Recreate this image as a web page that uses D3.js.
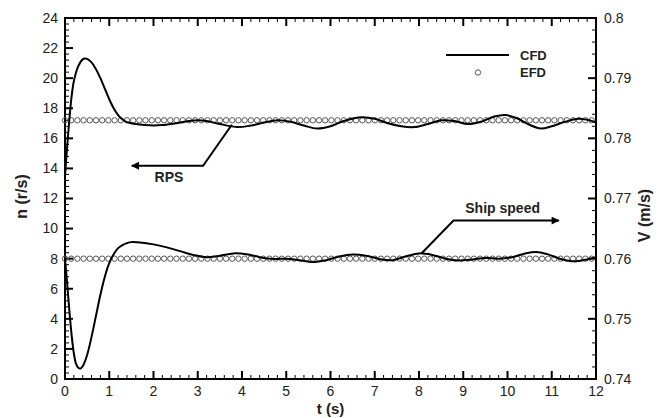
<!DOCTYPE html>
<html><head><meta charset="utf-8">
<script src="https://cdn.jsdelivr.net/npm/d3@7"></script>
<style>body{margin:0;background:#fff}svg{display:block}</style>
</head><body>
<script>
// ---- data ----
const rpsTime = [0,0.05,0.1,0.15,0.2,0.3,0.4,0.45,0.5,0.6,0.7,0.8,0.9,1.0,1.1,1.2,1.3,1.4,1.6,1.8,2.0,2.2,2.5,2.8,3.0,3.2,3.5,3.9,4.2,4.5,4.8,5.1,5.4,5.7,6.0,6.3,6.7,7.0,7.3,7.6,7.9,8.2,8.5,8.8,9.1,9.4,9.7,9.95,10.2,10.5,10.75,11.0,11.3,11.6,11.85,12];
const rpsCFD = [13.5,15.5,17.3,18.8,19.8,20.8,21.25,21.3,21.28,21.05,20.6,20.0,19.3,18.6,18.0,17.55,17.25,17.08,16.95,16.88,16.85,16.88,17.0,17.15,17.2,17.15,16.95,16.75,16.85,17.05,17.2,17.1,16.85,16.65,16.8,17.15,17.4,17.3,17.0,16.8,16.75,16.95,17.2,17.15,16.95,17.1,17.45,17.55,17.35,16.9,16.65,16.8,17.1,17.3,17.2,17.05];
const speedTime = [0,0.05,0.1,0.15,0.2,0.25,0.3,0.35,0.4,0.5,0.6,0.7,0.8,0.9,1.0,1.1,1.2,1.3,1.4,1.5,1.7,2.0,2.3,2.6,2.9,3.2,3.5,3.8,4.1,4.4,4.7,5.0,5.3,5.6,5.9,6.2,6.5,6.8,7.1,7.4,7.7,8.0,8.3,8.6,8.9,9.2,9.5,9.8,10.1,10.4,10.65,10.9,11.2,11.5,11.8,12];
const speedCFD = [8.0,6.3,4.5,2.9,1.7,1.0,0.75,0.7,0.85,1.6,2.8,4.2,5.6,6.8,7.7,8.3,8.7,8.9,9.03,9.1,9.08,8.95,8.75,8.5,8.25,8.1,8.2,8.35,8.3,8.1,7.98,8.0,7.9,7.78,7.9,8.15,8.28,8.2,7.98,7.9,8.15,8.35,8.25,8.0,7.88,7.95,8.05,8.0,8.1,8.35,8.45,8.3,7.98,7.82,7.95,8.1];
const rpsEFD = 17.2;      // constant experimental RPS
const speedEFD = 8.0;     // experimental ship speed, on the n scale (0.76 m/s)
const efdTime = d3.range(0, 12.001, 0.14);
const xTicks = [0,1,2,3,4,5,6,7,8,9,10,11,12];
const nTicks = [0,2,4,6,8,10,12,14,16,18,20,22,24];
const vTicks = [0.74,0.75,0.76,0.77,0.78,0.79,0.8];
const vTickLabels = ["0.74","0.75","0.76","0.77","0.78","0.79","0.8"];

// ---- layout ----
const W = 668, H = 418;
const m = {l:65, r:72, t:18, b:39};
const svg = d3.select("body").append("svg").attr("width", W).attr("height", H)
  .style("font-family", "'Liberation Sans', Arial, sans-serif");

const x = d3.scaleLinear().domain([0,12]).range([m.l, W - m.r]);
const y = d3.scaleLinear().domain([0,24]).range([H - m.b, m.t]);
const yv = d3.scaleLinear().domain([0.74,0.8]).range([H - m.b, m.t]);

const x0 = x(0), x1 = x(12), y0 = y(0), y1 = y(24);
const MAJ = 8, MIN = 4;
const g = svg.append("g");

// minor ticks
const xMinor = d3.range(0, 12.001, 0.2).filter(v => Math.abs(v - Math.round(v)) > 1e-6);
const nMinor = d3.range(0, 24.001, 0.4).filter(v => Math.abs(v/2 - Math.round(v/2)) > 1e-6);
const vMinor = d3.range(0.74, 0.8001, 0.002).filter(v => Math.abs(v*100 - Math.round(v*100)) > 1e-6);

const tk = g.append("g").attr("stroke", "#000");
xMinor.forEach(v => {
  tk.append("line").attr("x1", x(v)).attr("x2", x(v)).attr("y1", y0).attr("y2", y0 - MIN).attr("stroke-width", 1);
  tk.append("line").attr("x1", x(v)).attr("x2", x(v)).attr("y1", y1).attr("y2", y1 + MIN).attr("stroke-width", 1);
});
xTicks.forEach(v => {
  tk.append("line").attr("x1", x(v)).attr("x2", x(v)).attr("y1", y0).attr("y2", y0 - MAJ).attr("stroke-width", 2);
  tk.append("line").attr("x1", x(v)).attr("x2", x(v)).attr("y1", y1).attr("y2", y1 + MAJ).attr("stroke-width", 2);
});
nMinor.forEach(v => {
  tk.append("line").attr("x1", x0).attr("x2", x0 + MIN).attr("y1", y(v)).attr("y2", y(v)).attr("stroke-width", 1);
});
nTicks.forEach(v => {
  tk.append("line").attr("x1", x0).attr("x2", x0 + MAJ).attr("y1", y(v)).attr("y2", y(v)).attr("stroke-width", 2);
});
vMinor.forEach(v => {
  tk.append("line").attr("x1", x1).attr("x2", x1 - MIN).attr("y1", yv(v)).attr("y2", yv(v)).attr("stroke-width", 1);
});
vTicks.forEach(v => {
  tk.append("line").attr("x1", x1).attr("x2", x1 - MAJ).attr("y1", yv(v)).attr("y2", yv(v)).attr("stroke-width", 2);
});

// frame
g.append("rect").attr("x", x0).attr("y", y1).attr("width", x1 - x0).attr("height", y0 - y1)
  .attr("fill", "none").attr("stroke", "#000").attr("stroke-width", 2);

// tick labels
const lab = g.append("g").attr("font-size", 14).attr("fill", "#222");
xTicks.forEach(v => lab.append("text").attr("x", x(v)).attr("y", y0 + 17).attr("text-anchor", "middle").text(v));
nTicks.forEach(v => lab.append("text").attr("x", x0 - 7).attr("y", y(v)).attr("dy", "0.35em").attr("text-anchor", "end").text(v));
vTicks.forEach((v, i) => lab.append("text").attr("x", x1 + 8).attr("y", yv(v)).attr("dy", "0.35em").attr("text-anchor", "start").text(vTickLabels[i]));

// axis titles
svg.append("text").attr("x", x(6)).attr("y", 414).attr("text-anchor", "middle")
  .attr("font-size", 15).attr("font-weight", "bold").attr("fill", "#222").text("t (s)");
svg.append("text").attr("transform", `translate(27,${y(12) - 2}) rotate(-90)`).attr("text-anchor", "middle")
  .attr("font-size", 16).attr("font-weight", "bold").attr("fill", "#222").text("n (r/s)");
svg.append("text").attr("transform", `translate(650,${y(12) + 17}) rotate(-90)`).attr("text-anchor", "middle")
  .attr("font-size", 16).attr("font-weight", "bold").attr("fill", "#222").text("V (m/s)");

// EFD circles
const circ = svg.append("g").attr("fill", "none").attr("stroke", "#555").attr("stroke-width", 1);
[rpsEFD, speedEFD].forEach(val => {
  efdTime.forEach(t => circ.append("circle").attr("cx", x(t)).attr("cy", y(val)).attr("r", 2.7));
});

// CFD lines
const line = d3.line().x(d => x(d[0])).y(d => y(d[1])).curve(d3.curveCatmullRom.alpha(0.5));
svg.append("path").datum(rpsTime.map((t, i) => [t, rpsCFD[i]]))
  .attr("d", line).attr("fill", "none").attr("stroke", "#000").attr("stroke-width", 2);
svg.append("path").datum(speedTime.map((t, i) => [t, speedCFD[i]]))
  .attr("d", line).attr("fill", "none").attr("stroke", "#000").attr("stroke-width", 2);

// annotations
svg.append("defs").append("marker").attr("id", "arr").attr("viewBox", "0 0 10 10")
  .attr("refX", 9).attr("refY", 5).attr("markerWidth", 5).attr("markerHeight", 4)
  .attr("orient", "auto").attr("markerUnits", "strokeWidth")
  .append("path").attr("d", "M0,0 L10,5 L0,10 z").attr("fill", "#000");

const ann = (pts) => svg.append("path")
  .attr("d", d3.line()(pts.map(p => [x(p[0]), y(p[1])])))
  .attr("fill", "none").attr("stroke", "#000").attr("stroke-width", 2).attr("marker-end", "url(#arr)");
ann([[3.77, 16.9], [3.12, 14.18], [1.51, 14.18]]);
ann([[8.06, 8.36], [8.78, 10.53], [11.16, 10.53]]);

svg.append("text").attr("x", x(2.35)).attr("y", y(13.1)).attr("text-anchor", "middle")
  .attr("font-size", 14).attr("font-weight", "bold").attr("fill", "#222").text("RPS");
svg.append("text").attr("x", x(9.89)).attr("y", y(11.05)).attr("text-anchor", "middle")
  .attr("font-size", 14).attr("font-weight", "bold").attr("fill", "#222").text("Ship speed");

// legend
const lg = svg.append("g");
lg.append("line").attr("x1", 446).attr("x2", 509).attr("y1", 55).attr("y2", 55).attr("stroke", "#000").attr("stroke-width", 2);
lg.append("circle").attr("cx", 478).attr("cy", 72.5).attr("r", 2.7).attr("fill", "none").attr("stroke", "#555");
lg.append("text").attr("x", 520).attr("y", 55).attr("dy", "0.35em").attr("font-size", 13).attr("font-weight", "bold").attr("fill", "#222").text("CFD");
lg.append("text").attr("x", 520).attr("y", 72.5).attr("dy", "0.35em").attr("font-size", 13).attr("font-weight", "bold").attr("fill", "#222").text("EFD");
</script>
</body></html>
